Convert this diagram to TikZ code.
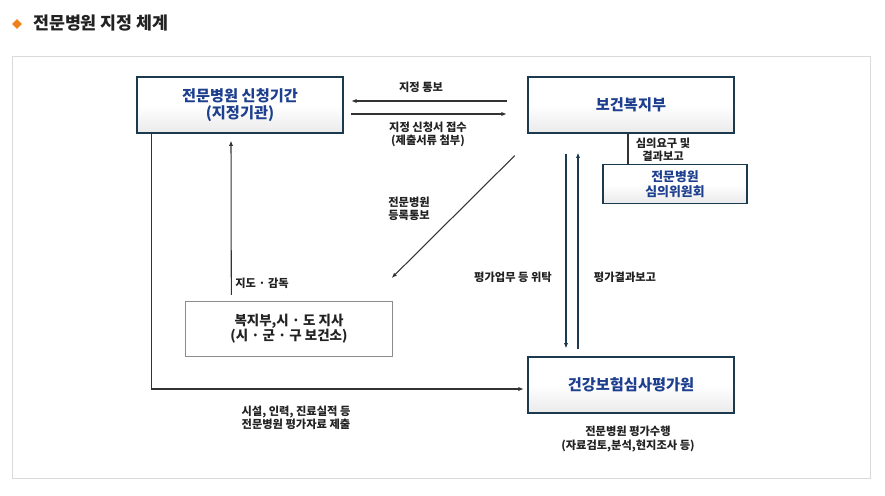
\documentclass[tikz,border=0pt]{standalone}
\usepackage{fontspec}
\usepackage{tikz}
\usetikzlibrary{arrows.meta,calc,positioning,shapes.geometric}
\setmainfont{Noto Sans CJK KR}
\definecolor{Ink}{HTML}{222222}
\definecolor{Navy}{HTML}{1C3A4E}
\definecolor{BoxBlue}{HTML}{1D3F8E}
\definecolor{Frame}{HTML}{DADADA}
\definecolor{Accent}{HTML}{F08019}
\definecolor{Line}{HTML}{333333}

\begin{document}
\begin{tikzpicture}[x=0.03cm,y=-0.03cm,
    mainbox/.style={draw=Navy,line width=1.6pt,top color=white,bottom color=black!8,middle color=white,
      minimum width=6.2cm,minimum height=1.66cm,align=center,
      font=\fontsize{13}{15}\selectfont\bfseries,text=BoxBlue},
    subbox/.style={draw=black!45,line width=0.6pt,fill=white,
      minimum width=6.2cm,minimum height=1.66cm,align=center,
      font=\fontsize{11.5}{13}\selectfont\bfseries,text=Ink},
    note/.style={align=center,font=\fontsize{9.6}{11.2}\selectfont\bfseries,text=Ink},
    arr/.style={draw=Line,line width=0.9pt,-{Latex[length=4.5pt,width=3.6pt]}},
    link/.style={draw=Line,line width=0.9pt}]
  \useasboundingbox (0,0) rectangle (885,495);
  % title
  \node[diamond,fill=Accent,inner sep=0pt,minimum size=8.5pt] (mark) at (17,24) {};
  \node[anchor=west,font=\fontsize{14.8}{16}\selectfont\bfseries,text=Ink] (title) at (29,23) {전문병원 지정 체계};
  \draw[Frame,line width=0.8pt] (12,56) rectangle (870,478);

  % boxes
  \node[mainbox] (apply) at (240,105) {전문병원 신청기간\\(지정기관)};
  \node[mainbox] (mohw) at (631,105) {보건복지부};
  \node[mainbox,minimum width=4.3cm,minimum height=1.17cm,font=\fontsize{11}{12.5}\selectfont\bfseries] (council) at (675,184) {전문병원\\심의위원회};
  \node[subbox] (local) at (289,329) {복지부,시 · 도 지사\\(시 · 군 · 구 보건소)};
  \node[mainbox] (hira) at (631,385) {건강보험심사평가원};

  % connectors
  \draw[arr] ($(mohw.west)+(-20,-4)$) -- ($(apply.east)+(7,-4)$);
  \draw[arr] ($(apply.east)+(7,9)$) -- ($(mohw.west)+(-20,9)$);
  \draw[link] ($(mohw.south)+(-3,0)$) -- ($(council.north)+(-47,0)$);
  \draw[arr] ($(mohw.south west)+(-12,22)$) -- ($(local.north east)+(-1,-23)$);
  \draw[arr,draw=Navy] ($(mohw.south)+(-65,20)$) -- ($(hira.north)+(-65,-8)$);
  \draw[arr,draw=Navy] ($(hira.north)+(-53,-7)$) -- ($(mohw.south)+(-53,19)$);
  \draw[arr] ($(local.north west)+(46,-6)$) -- ($(apply.south)+(-9,7)$);
  \coordinate (submit) at ($(hira.west)+(-3,4)$);
  \draw[arr] ($(apply.south west)+(16,0)$) |- (submit);

  % labels
  \node[note] (l1) at (421,87) {지정 통보};
  \node[note] (l2) at (428,134) {지정 신청서 접수\\(제출서류 첨부)};
  \node[note] (l3) at (663,150) {심의요구 및\\결과보고};
  \node[note] (l4) at (409,209) {전문병원\\등록통보};
  \node[note] (l5) at (262,283) {지도 · 감독};
  \node[note] (l6) at (513,277) {평가업무 등 위탁};
  \node[note] (l7) at (625,277) {평가결과보고};
  \node[note] (l8) at (296,418) {시설, 인력, 진료실적 등\\전문병원 평가자료 제출};
  \node[note] (l9) at (628,439) {전문병원 평가수행\\(자료검토,분석,현지조사 등)};
\end{tikzpicture}
\end{document}
